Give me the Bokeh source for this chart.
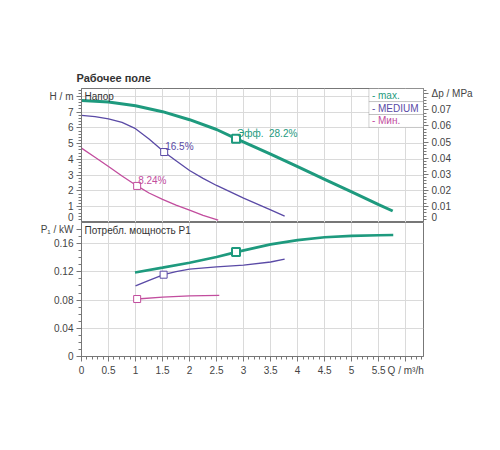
from bokeh.plotting import figure
from bokeh.models import Range1d, LinearAxis, FixedTicker, Label, BoxAnnotation
from bokeh.layouts import column
from bokeh.embed import file_html
from bokeh.resources import INLINE

# ---------------- data ----------------
# Head curves (Q in m3/h, H in m)
q_max = [0, 0.5, 1.0, 1.5, 2.0, 2.5, 2.86, 3.5, 4.0, 4.5, 5.0, 5.5, 5.76]
h_max = [7.74, 7.64, 7.40, 7.03, 6.52, 5.90, 5.32, 4.34, 3.54, 2.74, 1.94, 1.14, 0.73]

q_med = [0, 0.25, 0.5, 0.75, 1.0, 1.25, 1.53, 1.75, 2.0, 2.25, 2.5, 3.0, 3.5, 3.76]
h_med = [6.79, 6.72, 6.58, 6.35, 5.95, 5.30, 4.47, 3.92, 3.30, 2.80, 2.35, 1.55, 0.80, 0.40]

q_min = [0, 0.25, 0.5, 0.75, 1.03, 1.25, 1.5, 1.75, 2.0, 2.25, 2.53]
h_min = [4.72, 4.14, 3.55, 2.95, 2.32, 1.87, 1.47, 1.10, 0.78, 0.45, 0.15]

# Power curves (Q in m3/h, P1 in kW)
pq_max = [0.99, 1.5, 2.0, 2.5, 2.86, 3.5, 4.0, 4.5, 5.0, 5.5, 5.77]
p_max = [0.119, 0.126, 0.133, 0.141, 0.148, 0.159, 0.165, 0.169, 0.171, 0.172, 0.1723]

pq_med = [1.0, 1.25, 1.52, 1.75, 2.0, 2.5, 3.0, 3.5, 3.76]
p_med = [0.100, 0.108, 0.116, 0.1205, 0.124, 0.127, 0.1295, 0.134, 0.138]

pq_min = [1.03, 1.5, 2.0, 2.55]
p_min = [0.0815, 0.0843, 0.0860, 0.0867]

# efficiency points
eff_q = [2.86, 1.53, 1.03]
eff_h = [5.32, 4.47, 2.32]
eff_pq = [2.86, 1.52, 1.03]
eff_p = [0.148, 0.116, 0.0815]
eff_labels = ["Эфф.\u00a0\u00a028.2%", "16.5%", "8.24%"]

series_names = ["- max.", "- MEDIUM", "- Мин."]

x_ticks = [0, 0.5, 1, 1.5, 2, 2.5, 3, 3.5, 4, 4.5, 5, 5.5, 6]
x_tick_labels = ["0", "0.5", "1", "1.5", "2", "2.5", "3", "3.5", "4", "4.5", "5", "5.5", "Q / m³/h"]
h_ticks = [0, 1, 2, 3, 4, 5, 6, 7, 8]
h_tick_labels = ["0", "1", "2", "3", "4", "5", "6", "7", "H / m"]
dp_ticks = [0, 0.01, 0.02, 0.03, 0.04, 0.05, 0.06, 0.07, 0.08]
dp_tick_labels = ["0", "0.01", "0.02", "0.03", "0.04", "0.05", "0.06", "0.07", "Δp / MPa"]
p_ticks = [0, 0.04, 0.08, 0.12, 0.16, 0.18]
p_tick_labels = ["0", "0.04", "0.08", "0.12", "0.16", "P₁ / kW"]

# ---------------- style ----------------
FONT = "Liberation Sans"
C_MAX = "#1e9a7e"
C_MED = "#5a4aa6"
C_MIN = "#c24d9e"
GRID = "#dadada"
AX = "#777777"
TXT = "#444444"
colors = [C_MAX, C_MED, C_MIN]

X_END = 6.33
H_END = 8.5
DP_END = H_END * 0.0098
P_END = 0.19


def style_axis(ax):
    ax.axis_line_color = AX
    ax.major_tick_line_color = AX
    ax.minor_tick_line_color = AX
    ax.major_tick_out = 5
    ax.major_tick_in = 0
    ax.minor_tick_out = 3
    ax.minor_tick_in = 0
    ax.major_label_text_font = FONT
    ax.major_label_text_font_size = "10px"
    ax.major_label_text_color = TXT
    ax.major_label_standoff = 3


def minor_list(start, stop, step):
    n = int(round((stop - start) / step))
    return [round(start + i * step, 6) for i in range(n + 1)]


# ---------------- top figure: head ----------------
p1 = figure(width=480, height=222, x_range=Range1d(0, X_END), y_range=Range1d(0, H_END),
            output_backend="svg", toolbar_location=None, x_axis_location=None,
            min_border_left=81, min_border_right=57, min_border_top=88, min_border_bottom=0,
            title="Рабочее поле")
p1.title.text_font = FONT
p1.title.text_font_size = "11px"
p1.title.text_font_style = "bold"
p1.title.text_color = "#333333"
p1.title.align = "left"
p1.title.offset = -5
p1.outline_line_color = AX
p1.background_fill_color = "white"
p1.border_fill_color = "white"

p1.yaxis[0].ticker = FixedTicker(ticks=h_ticks, minor_ticks=minor_list(0, 8.4, 0.2))
p1.yaxis[0].major_label_overrides = dict(zip(h_ticks, h_tick_labels))
style_axis(p1.yaxis[0])
p1.xgrid.ticker = FixedTicker(ticks=x_ticks)
p1.ygrid.ticker = FixedTicker(ticks=h_ticks)
p1.xgrid.grid_line_color = GRID
p1.ygrid.grid_line_color = GRID

p1.extra_y_ranges = {"dp": Range1d(0, DP_END)}
dp_axis = LinearAxis(y_range_name="dp",
                     ticker=FixedTicker(ticks=dp_ticks, minor_ticks=minor_list(0, 0.082, 0.002)))
dp_axis.major_label_overrides = dict(zip(dp_ticks, dp_tick_labels))
style_axis(dp_axis)
p1.add_layout(dp_axis, "right")

p1.line(q_max, h_max, line_color=C_MAX, line_width=3)
p1.line(q_med, h_med, line_color=C_MED, line_width=1.3)
p1.line(q_min, h_min, line_color=C_MIN, line_width=1.3)
for i in range(3):
    p1.scatter([eff_q[i]], [eff_h[i]], marker="square", size=7 if i else 8,
               fill_color="white", line_color=colors[i], line_width=2 if i == 0 else 1)
    p1.add_layout(Label(x=eff_q[i], y=eff_h[i], text=eff_labels[i], x_offset=1, y_offset=0,
                        text_baseline="bottom", text_font=FONT, text_font_size="10px",
                        text_color=colors[i]))

p1.add_layout(Label(x=0, y=H_END, text="Напор", x_offset=3, y_offset=-2, text_baseline="top",
                    text_font=FONT, text_font_size="10px", text_color="#333333"))

# legend boxes
row_edges = [H_END, 7.67, 6.85, 6.03]
for i in range(3):
    p1.add_layout(BoxAnnotation(left=5.32, right=X_END, top=row_edges[i], bottom=row_edges[i + 1],
                                fill_color="white", fill_alpha=1, line_color="#666666", line_width=1))
    p1.add_layout(Label(x=5.32, y=(row_edges[i] + row_edges[i + 1]) / 2, text=series_names[i],
                        x_offset=3, text_baseline="middle", text_font=FONT, text_font_size="10px",
                        text_color=colors[i]))

# ---------------- bottom figure: power ----------------
p2 = figure(width=480, height=174, x_range=p1.x_range, y_range=Range1d(0, P_END),
            output_backend="svg", toolbar_location=None,
            min_border_left=81, min_border_right=57, min_border_top=0, min_border_bottom=40)
p2.outline_line_color = AX
p2.xaxis[0].ticker = FixedTicker(ticks=x_ticks, minor_ticks=minor_list(0, 6.3, 0.1))
p2.xaxis[0].major_label_overrides = dict(zip(x_ticks, x_tick_labels))
style_axis(p2.xaxis[0])
p2.yaxis[0].ticker = FixedTicker(ticks=p_ticks, minor_ticks=minor_list(0, 0.18, 0.01))
p2.yaxis[0].major_label_overrides = dict(zip(p_ticks, p_tick_labels))
style_axis(p2.yaxis[0])
p2.xgrid.ticker = FixedTicker(ticks=x_ticks)
p2.ygrid.ticker = FixedTicker(ticks=p_ticks[:-1])
p2.xgrid.grid_line_color = GRID
p2.ygrid.grid_line_color = GRID

p2.line(pq_max, p_max, line_color=C_MAX, line_width=2.6)
p2.line(pq_med, p_med, line_color=C_MED, line_width=1.3)
p2.line(pq_min, p_min, line_color=C_MIN, line_width=1.3)
for i in range(3):
    p2.scatter([eff_pq[i]], [eff_p[i]], marker="square", size=7 if i else 8,
               fill_color="white", line_color=colors[i], line_width=2 if i == 0 else 1)

p2.add_layout(Label(x=0, y=P_END, text="Потребл. мощность P1", x_offset=3, y_offset=-2,
                    text_baseline="top", text_font=FONT, text_font_size="10px",
                    text_color="#333333"))

layout = column(p1, p2, spacing=0)
open("out.html", "w").write(file_html(layout, INLINE))
